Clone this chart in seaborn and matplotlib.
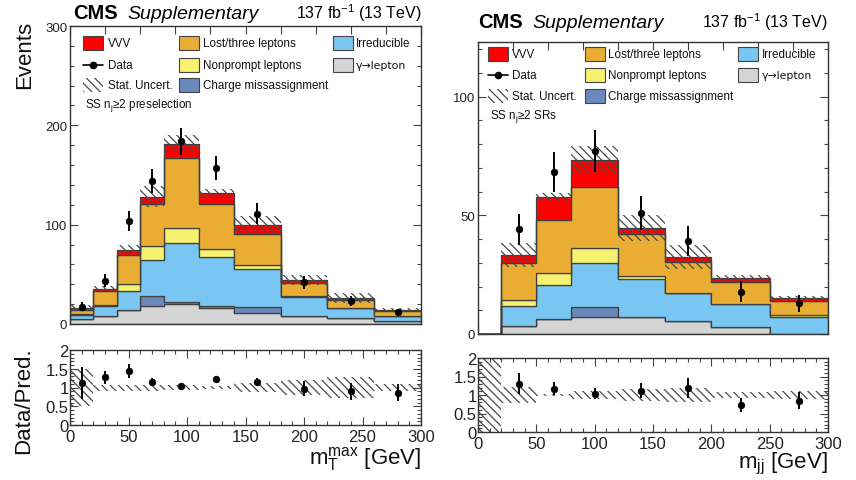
import numpy as np
import pandas as pd
import matplotlib
matplotlib.use("Agg")
import matplotlib.pyplot as plt
import seaborn as sns
from matplotlib.patches import Rectangle
from matplotlib.lines import Line2D
from matplotlib.ticker import MultipleLocator, NullFormatter, FuncFormatter

# ---------------- data ----------------
processes = ["VVV", "Lost/three leptons", "Nonprompt leptons", "Irreducible",
             "Charge missassignment", "γ→lepton"]          # stack: top -> bottom
colors = ["#ff0000", "#e9ad33", "#f6f16e", "#7ac6f2", "#6a88bb", "#d4d4d4"]

# Left: m_T^max, SS Nj>=2 preselection
L_edges = [0, 20, 40, 60, 80, 110, 140, 180, 220, 260, 300]
L_vvv = [1.7, 2.4, 4.7, 7.6, 15.0, 11.0, 8.7, 3.3, 2.0, 1.3]
L_lost = [4.0, 14.3, 28.6, 42.4, 70.4, 44.7, 31.7, 13.3, 8.0, 4.5]
L_nonprompt = [1.3, 1.3, 7.4, 14.0, 14.6, 8.3, 3.6, 0.4, 0.3, 0.2]
L_irreducible = [3.7, 9.4, 19.3, 36.0, 60.0, 49.4, 39.0, 19.0, 9.8, 5.5]
L_chargemis = [0.3, 0.3, 0.3, 10.0, 2.0, 2.6, 6.0, 0.3, 0.2, 0.1]
L_gamma = [5.0, 8.0, 13.7, 18.3, 19.7, 15.7, 10.7, 8.0, 5.7, 2.7]
L_unc = [3.0, 2.7, 5.3, 11.0, 9.0, 4.0, 9.0, 5.0, 5.0, 2.3]
L_data_x = [10, 30, 50, 70, 95, 125, 160, 200, 240, 280]
L_data = [17.5, 43.7, 104, 144, 184, 157, 111, 42, 23, 11.7]
L_ratio = [1.12, 1.27, 1.45, 1.16, 1.04, 1.23, 1.15, 0.97, 0.90, 0.86]
L_ratio_err = [0.43, 0.17, 0.19, 0.10, 0.06, 0.09, 0.10, 0.20, 0.23, 0.23]
L_ratio_band = [0.49, 0.08, 0.08, 0.08, 0.06, 0.05, 0.12, 0.20, 0.28, 0.10]

# Right: m_jj, SS Nj>=2 SRs
R_edges = [0, 20, 50, 80, 120, 160, 200, 250, 300]
R_vvv = [0, 3.2, 9.6, 11.5, 2.4, 1.9, 1.5, 1.0]
R_lost = [0, 15.8, 22.1, 25.9, 17.8, 13.2, 9.4, 5.9]
R_nonprompt = [0, 2.4, 5.3, 6.0, 1.4, 0.2, 0.1, 1.1]
R_irreducible = [0, 8.4, 14.2, 18.9, 15.8, 11.6, 9.7, 6.8]
R_chargemis = [0, 0, 0, 3.9, 0, 0, 0, 0]
R_gamma = [0, 3.5, 6.4, 7.3, 7.3, 5.5, 2.8, 0.2]
R_unc = [0, 5.2, 2.0, 5.9, 5.6, 5.0, 1.4, 0.8]
R_data_x = [35, 65, 100, 140, 180, 225, 275]
R_data = [44.1, 68.2, 77.2, 51.1, 39.1, 17.9, 13.0]
R_ratio = [1.31, 1.17, 1.04, 1.12, 1.19, 0.73, 0.84]
R_ratio_err = [0.28, 0.17, 0.15, 0.21, 0.26, 0.19, 0.23]
R_ratio_band = [1.0, 0.22, 0.04, 0.12, 0.17, 0.20, 0.08, 0.12]

# ---------------- style ----------------
sns.set_theme(style="ticks")
plt.rcParams['font.family'] = ['Liberation Sans', 'DejaVu Sans']
plt.rcParams['mathtext.fontset'] = 'custom'
plt.rcParams['mathtext.rm'] = 'Liberation Sans'
plt.rcParams['mathtext.it'] = 'Liberation Sans:italic'
plt.rcParams['mathtext.bf'] = 'Liberation Sans:bold'
plt.rcParams['hatch.linewidth'] = 0.9
plt.rcParams['hatch.color'] = '#4a4a4a'

W, H = 856, 481
fig = plt.figure(figsize=(W / 100, H / 100), dpi=100)
fig.patch.set_facecolor("white")
HATCH = "\\\\\\\\"
HCOL = "#4a4a4a"


def fx(x):
    return x / W


def fy(y):
    return 1 - y / H


def axes_px(x0, y0, x1, y1):
    return fig.add_axes([fx(x0), fy(y1), fx(x1) - fx(x0), fy(y0) - fy(y1)])


def style_axis(ax, xmaj, xmin, ymaj, ymin, lab_size, show_x):
    ax.set_facecolor("white")
    for s in ax.spines.values():
        s.set_color("#333333")
        s.set_linewidth(1.0)
        s.set_visible(True)
    ax.xaxis.set_major_locator(MultipleLocator(xmaj))
    if xmin:
        ax.xaxis.set_minor_locator(MultipleLocator(xmin))
    ax.yaxis.set_major_locator(MultipleLocator(ymaj))
    ax.yaxis.set_minor_locator(MultipleLocator(ymin))
    ax.tick_params(which="both", direction="in", top=True, right=True,
                   colors="#444444", width=0.8)
    ax.tick_params(which="major", length=6)
    ax.tick_params(which="minor", length=3)
    ax.tick_params(axis="both", labelsize=lab_size, labelcolor="#222222", pad=2)
    if not show_x:
        ax.xaxis.set_major_formatter(NullFormatter())
    ax.grid(False)


def main_panel(ax, edges, comps, unc, dx, dy, ylim):
    edges_a = np.array(edges, float)
    centers = 0.5 * (edges_a[1:] + edges_a[:-1])
    rows = []
    for name, vals in zip(processes, comps):
        for c, v in zip(centers, vals):
            rows.append({"x": float(c), "w": float(v), "process": name})
    df = pd.DataFrame(rows)
    sns.histplot(data=df, x="x", weights="w", hue="process", hue_order=processes,
                 palette=colors, bins=list(edges), multiple="stack", element="step",
                 alpha=1, edgecolor="#404040", linewidth=0.9, legend=False, ax=ax)
    total = np.sum(np.array(comps, float), axis=0)
    unc = np.array(unc, float)
    lo = np.append(total - unc, (total - unc)[-1])
    hi = np.append(total + unc, (total + unc)[-1])
    ax.fill_between(edges_a, lo, hi, step="post", facecolor="none",
                    edgecolor=HCOL, hatch=HATCH, linewidth=0, zorder=5)
    dy = np.array(dy, float)
    ax.errorbar(dx, dy, yerr=np.sqrt(dy), fmt="none", ecolor="black",
                elinewidth=1.4, capsize=0, zorder=6)
    sns.scatterplot(x=dx, y=dy, color="black", s=24, edgecolor="black",
                    zorder=7, ax=ax)
    ax.set_xlim(0, 300)
    ax.set_ylim(*ylim)
    ax.set_xlabel("")
    ax.set_ylabel("")


def ratio_panel(ax, edges, band, rx, ry, rerr):
    edges = np.array(edges, float)
    band = np.array(band, float)
    lo = np.append(1 - band, 1 - band[-1])
    hi = np.append(1 + band, 1 + band[-1])
    ax.fill_between(edges, lo, hi, step="post", facecolor="none",
                    edgecolor=HCOL, hatch=HATCH, linewidth=0, zorder=2)
    ax.errorbar(rx, ry, yerr=rerr, fmt="none", ecolor="black",
                elinewidth=1.4, capsize=0, zorder=6)
    sns.scatterplot(x=rx, y=ry, color="black", s=24, edgecolor="black",
                    zorder=7, ax=ax)
    ax.set_xlim(0, 300)
    ax.set_ylim(0, 2)
    ax.set_xlabel("")
    ax.set_ylabel("")


def legend(boxx, textx, rowy, sel_text, sel_pos):
    fs = 8.4
    bw, bh = 20, 14
    items = [
        (0, 0, "box", colors[0], "VVV"),
        (0, 1, "data", None, "Data"),
        (0, 2, "hatch", None, "Stat. Uncert."),
        (1, 0, "box", colors[1], "Lost/three leptons"),
        (1, 1, "box", colors[2], "Nonprompt leptons"),
        (1, 2, "box", colors[4], "Charge missassignment"),
        (2, 0, "box", colors[3], "Irreducible"),
        (2, 1, "box", colors[5], "γ→lepton"),
    ]
    for col, row, kind, c, label in items:
        x0 = boxx[col]
        yc = rowy[row]
        if kind == "box":
            fig.add_artist(Rectangle((fx(x0), fy(yc + bh / 2)), bw / W, bh / H,
                                     transform=fig.transFigure, facecolor=c,
                                     edgecolor="#444444", linewidth=0.8))
        elif kind == "hatch":
            fig.add_artist(Rectangle((fx(x0), fy(yc + bh / 2)), bw / W, bh / H,
                                     transform=fig.transFigure, facecolor="none",
                                     edgecolor=HCOL, hatch=HATCH, linewidth=0))
        else:
            fig.add_artist(Line2D([fx(x0), fx(x0 + bw)], [fy(yc), fy(yc)],
                                  transform=fig.transFigure, color="black",
                                  linewidth=1.2))
            fig.add_artist(Line2D([fx(x0 + bw / 2)], [fy(yc)], marker="o",
                                  markersize=4.5, color="black",
                                  transform=fig.transFigure))
        if label == "γ→lepton":
            fig.text(fx(textx[col]), fy(yc), label, fontsize=fs - 0.6,
                     va="center", ha="left", color="#111111",
                     family=["DejaVu Sans"])
        else:
            fig.text(fx(textx[col]), fy(yc), label, fontsize=fs, va="center",
                     ha="left", color="#111111")
    fig.text(fx(sel_pos[0]), fy(sel_pos[1]), sel_text, fontsize=fs, va="center",
             ha="left", color="#111111")


def header(x_left, x_right, base_y):
    fig.text(fx(x_left), fy(base_y), "CMS", fontsize=14.5, fontweight="bold",
             va="baseline", ha="left", color="black")
    fig.text(fx(x_left + 54), fy(base_y), "Supplementary", fontsize=14,
             fontstyle="italic", va="baseline", ha="left", color="black")
    fig.text(fx(x_right), fy(base_y), r"137 fb$^{-1}$ (13 TeV)", fontsize=11.5,
             va="baseline", ha="right", color="black")


# ---------------- left panel ----------------
axL = axes_px(70, 27, 421, 325)
main_panel(axL, L_edges,
           [L_vvv, L_lost, L_nonprompt, L_irreducible, L_chargemis, L_gamma],
           L_unc, L_data_x, L_data, (0, 300))
style_axis(axL, 30, None, 100, 20, 9.5, False)

axLr = axes_px(70, 351, 421, 426)
ratio_panel(axLr, L_edges, L_ratio_band, L_data_x, L_ratio, L_ratio_err)
style_axis(axLr, 50, 10, 0.5, 0.1, 12, True)
axLr.yaxis.set_major_formatter(FuncFormatter(lambda v, p: f"{v:g}"))
axLr.tick_params(axis="x", pad=3)
axLr.tick_params(axis="y", pad=1)

# ---------------- right panel ----------------
axR = axes_px(478, 43, 828, 335)
main_panel(axR, R_edges,
           [R_vvv, R_lost, R_nonprompt, R_irreducible, R_chargemis, R_gamma],
           R_unc, R_data_x, R_data, (0, 123))
style_axis(axR, 30, None, 50, 10, 9.5, False)

axRr = axes_px(478, 359, 828, 433)
ratio_panel(axRr, R_edges, R_ratio_band, R_data_x, R_ratio, R_ratio_err)
style_axis(axRr, 50, 10, 0.5, 0.1, 12, True)
axRr.yaxis.set_major_formatter(FuncFormatter(lambda v, p: f"{v:g}"))
axRr.tick_params(axis="x", pad=3)
axRr.tick_params(axis="y", pad=1)

# ---------------- texts ----------------
header(73, 422, 19)
header(478, 828, 28)

legend([83, 179, 333], [108, 203, 356], [44, 66, 86],
       r"SS n$_\mathrm{j}$≥2 preselection", (85, 106))
legend([488, 585, 738], [512, 608, 762], [55, 76, 97],
       r"SS n$_\mathrm{j}$≥2 SRs", (490, 117))

fig.text(fx(25), fy(55), "Events", fontsize=16, rotation=90, ha="center",
         va="center", color="#111111")
fig.text(fx(24), fy(401), "Data/Pred.", fontsize=16, rotation=90, ha="center",
         va="center", color="#111111")
fig.text(fx(421), fy(459), r"m$_\mathrm{T}^\mathrm{max}$ [GeV]", fontsize=16,
         ha="right", va="center", color="#111111")
fig.text(fx(828), fy(464), r"m$_\mathrm{jj}$ [GeV]", fontsize=16,
         ha="right", va="center", color="#111111")

fig.savefig("out.png", dpi=100, facecolor="white")
